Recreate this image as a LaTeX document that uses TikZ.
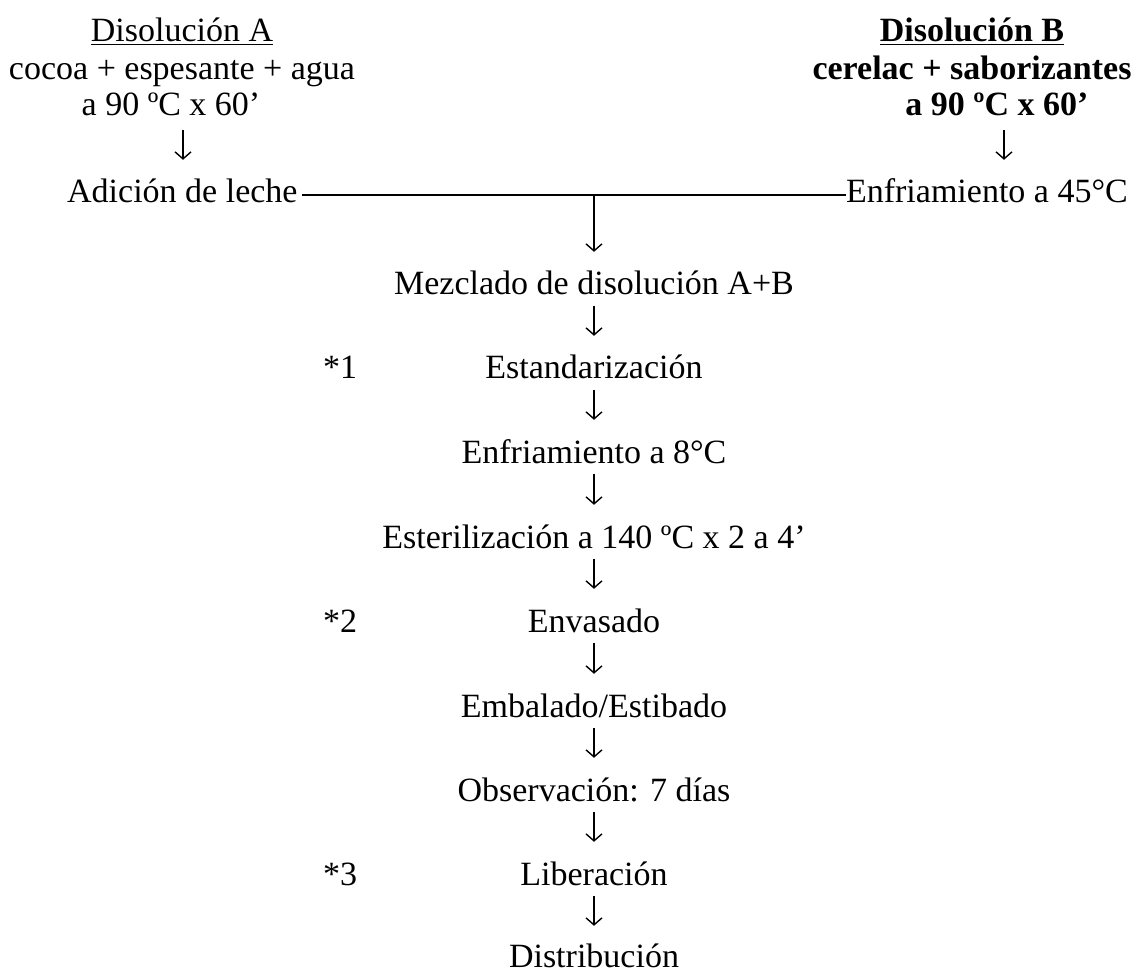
\documentclass[tikz,border=0pt]{standalone}
\usepackage{fontspec}
\setmainfont{Liberation Serif}
\usetikzlibrary{arrows.meta}
\newcommand{\fsz}{\fontsize{34}{40}\selectfont}
\tikzset{
  txt/.style={font=\fsz, inner sep=0pt, text height=24pt, text depth=8pt, anchor=base},
  arr/.style={draw, line width=1.4pt, -{Straight Barb[length=7pt,width=16pt]}, shorten <=3pt, shorten >=19pt},
  joinline/.style={draw, line width=1.4pt}
}
\begin{document}
\begin{tikzpicture}[x=1pt,y=-1pt]
\useasboundingbox (0,0) rectangle (1146,973);
% Column A
\node[txt] (dA) at (182,42) {\underline{Disolución A}};
\node[txt] (cA) at (182,80) {cocoa + espesante + agua};
\node[txt] (tA) at (171,116) {a 90 ºC x 60’};
\node[txt, anchor=base west] (adi) at (67,203) {Adición de leche};
% Column B
\node[txt] (dB) at (972,42) {\bfseries\underline{Disolución B}};
\node[txt] (cB) at (972,80) {\bfseries cerelac + saborizantes};
\node[txt] (tB) at (997,116) {\bfseries a 90 ºC x 60’};
\node[txt, anchor=base east] (e45) at (1128,203) {Enfriamiento a 45°C};
% Central column
\node[txt] (mez) at (594,295) {Mezclado de disolución A+B};
\node[txt] (est) at (594,379) {Estandarización};
\node[txt] (enf) at (594,463) {Enfriamiento a 8°C};
\node[txt] (ste) at (594,548) {Esterilización a 140 ºC x 2 a 4’};
\node[txt] (env) at (594,632) {Envasado};
\node[txt] (emb) at (594,717) {Embalado/Estibado};
\node[txt] (obs) at (594,801) {Observación: 7 días};
\node[txt] (lib) at (594,885) {Liberación};
\node[txt, text depth=4pt] (dis) at (594,967) {Distribución};
% Notes
\node[txt, anchor=base west] (n1) at (323,379) {*1};
\node[txt, anchor=base west] (n2) at (323,632) {*2};
\node[txt, anchor=base west] (n3) at (323,885) {*3};
% Connectors
\draw[arr, shorten <=6pt] ([xshift=12pt]tA.south) -- ([xshift=12pt]tA.south |- adi.north);
\draw[arr, shorten <=6pt] ([xshift=7pt]tB.south) -- ([xshift=7pt]tB.south |- e45.north);
\draw[joinline] ([xshift=4pt]adi.east) -- (e45.west);
\coordinate (j) at (594,196);
\draw[arr, shorten <=0pt] (j) -- (mez.north);
\draw[arr] (mez) -- (est);
\draw[arr] (est) -- (enf);
\draw[arr] (enf) -- (ste);
\draw[arr] (ste) -- (env);
\draw[arr] (env) -- (emb);
\draw[arr] (emb) -- (obs);
\draw[arr] (obs) -- (lib);
\draw[arr, shorten >=17pt] (lib) -- (dis);
\end{tikzpicture}
\end{document}
